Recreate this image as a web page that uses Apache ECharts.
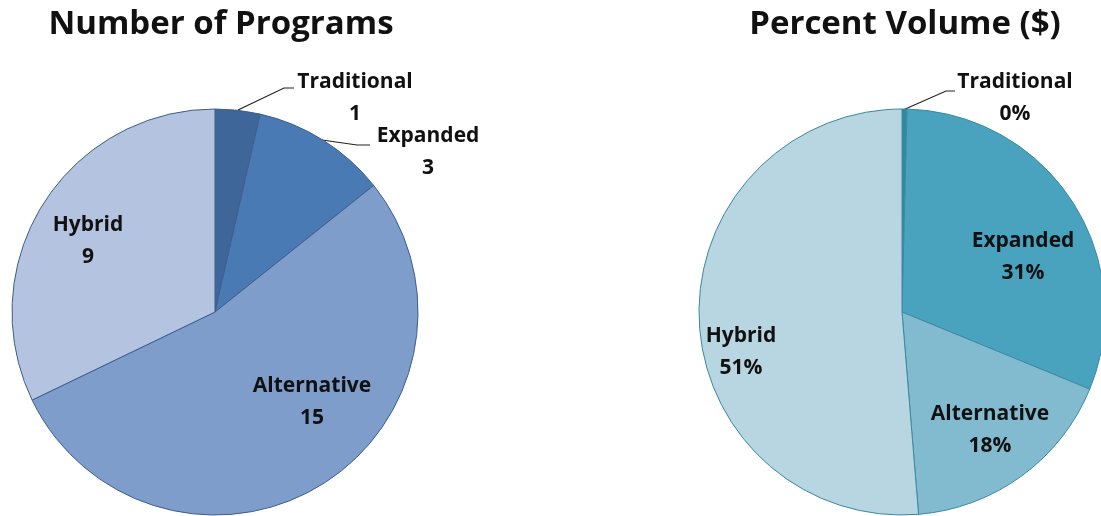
<!DOCTYPE html>
<html>
<head>
<meta charset="utf-8">
<script src="https://cdn.jsdelivr.net/npm/echarts@6/dist/echarts.min.js"></script>
<style>
  html, body { margin: 0; padding: 0; background: #fff; }
  #main { width: 1101px; height: 516px; }
</style>
</head>
<body>
<div id="main"></div>
<script>
// data
var categories = ['Traditional', 'Expanded', 'Alternative', 'Hybrid'];
var programCounts = [1, 3, 15, 9];
var volumePercents = [0.4, 30.8, 17.5, 51.3];

var leftColors = ['#3f6698', '#4a7ab4', '#7e9dcb', '#b4c3df'];
var rightColors = ['#2f8aa1', '#4aa3be', '#82bbcf', '#b7d6e1'];

// label anchors (px) for each pie, same order as categories
var labelPos = [
    [[355, 98], [428, 152], [312, 402], [88, 241]],
    [[1015, 98], [1023, 257], [990, 430], [741, 352]]
];
// leader lines for the outside labels
var leaderLines = [
    [[[238, 110], [284, 88], [294, 88]], [[322, 140], [357, 145], [370, 145]], null, null],
    [[[903, 110], [946, 91], [955, 91]], null, null, null]
];
var outsideIdx = [[0, 1], [0]];

var labelFont = {
    fontFamily: 'Open Sans',
    fontWeight: 'bold',
    fontSize: 21,
    lineHeight: 32,
    color: '#111'
};

function buildData(values, colors, seriesIdx) {
    return values.map(function (v, i) {
        var outside = outsideIdx[seriesIdx].indexOf(i) >= 0;
        return {
            name: categories[i],
            value: v,
            itemStyle: { color: colors[i] },
            labelLine: { show: outside }
        };
    });
}

var myChart = echarts.init(document.getElementById('main'));

var pieBase = {
    type: 'pie',
    radius: 203,
    startAngle: 90,
    clockwise: true,
    animation: false,
    silent: true,
    avoidLabelOverlap: false,
    label: Object.assign({ show: true, position: 'outside' }, labelFont),
    labelLine: {
        show: true,
        lineStyle: { color: '#222', width: 1.2 }
    },
    labelLayout: function (p) {
        var pos = labelPos[p.seriesIndex][p.dataIndex];
        var res = { x: pos[0], y: pos[1], align: 'center', verticalAlign: 'middle' };
        var ll = leaderLines[p.seriesIndex][p.dataIndex];
        if (ll) res.labelLinePoints = ll;
        return res;
    }
};

var titleStyle = { fontFamily: 'Open Sans', fontWeight: 'bold', fontSize: 33, color: '#111' };

var option = {
    backgroundColor: '#fff',
    title: [{
        text: 'Number of Programs',
        left: 216,
        top: 3,
        textAlign: 'center',
        textStyle: titleStyle
    }, {
        text: 'Percent Volume ($)',
        left: 900,
        top: 3,
        textAlign: 'center',
        textStyle: titleStyle
    }],
    series: [
        Object.assign({}, pieBase, {
            center: [215, 312],
            itemStyle: { borderColor: '#3d5f8e', borderWidth: 1 },
            label: Object.assign({}, pieBase.label, {
                formatter: function (p) { return p.name + '\n' + p.value; }
            }),
            data: buildData(programCounts, leftColors, 0)
        }),
        Object.assign({}, pieBase, {
            center: [902, 312],
            itemStyle: { borderColor: '#3a8aa2', borderWidth: 1 },
            label: Object.assign({}, pieBase.label, {
                formatter: function (p) { return p.name + '\n' + Math.round(p.value) + '%'; }
            }),
            data: buildData(volumePercents, rightColors, 1)
        })
    ]
};

myChart.setOption(option);
</script>
</body>
</html>
